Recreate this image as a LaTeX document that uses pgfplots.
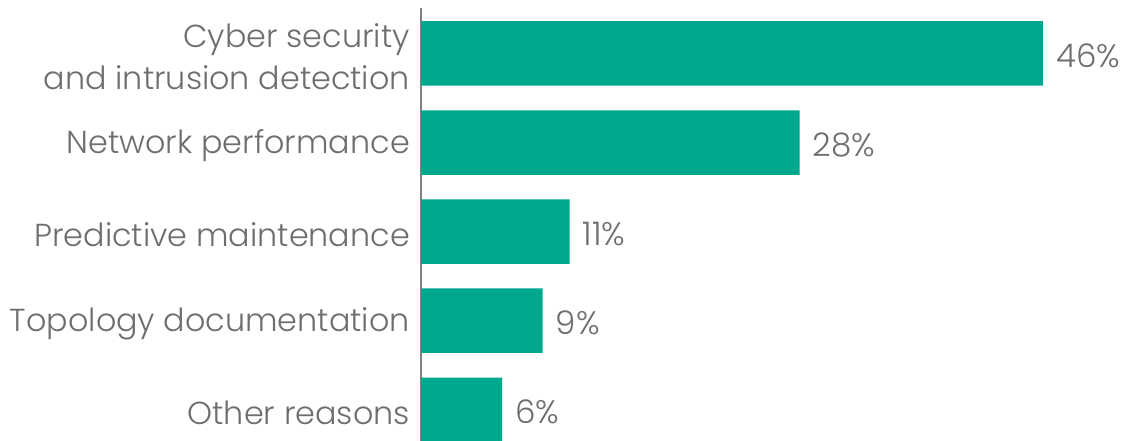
\documentclass[border=0pt]{standalone}
\usepackage{fontspec}
\setmainfont{Poppins}[UprightFont=* Light]
\usepackage{pgfplots}
\pgfplotsset{compat=1.18}
\definecolor{barcol}{HTML}{00A88E}
\definecolor{txtcol}{HTML}{6E6E6E}
\definecolor{linecol}{HTML}{808080}
\begin{document}
\begin{tikzpicture}
 \begin{axis}[
   at={(421pt,0pt)}, anchor=south west,
   scale only axis, width=676pt, height=433pt,
   xbar, bar width=64.5pt,
   xmin=0, xmax=50, ymin=-0.35, ymax=4.51,
   axis x line=none, axis y line*=left,
   y axis line style={linecol, line width=1.2pt},
   ytick={0,...,4}, major tick length=0pt,
   yticklabels={Other reasons,Topology documentation,Predictive maintenance,Network performance,{Cyber security\\and intrusion detection}},
   yticklabel style={align=right, inner sep=0pt, xshift=-11pt, yshift=-3pt, text=txtcol, font=\fontsize{31.8}{42}\selectfont},
   nodes near coords={\pgfmathprintnumber{\pgfplotspointmeta}\%},
   nodes near coords style={anchor=west, inner sep=0pt, xshift=13pt, yshift=-2pt, text=txtcol, font=\fontsize{32.5}{42}\selectfont, /pgf/number format/assume math mode=true},
   clip=false,
 ]
  \addplot[fill=barcol, draw=none] coordinates {(46,4) (28,3) (11,2) (9,1) (6,0)};
 \end{axis}
 \pgfresetboundingbox
 \useasboundingbox (0,0) rectangle (1129pt,441pt);
\end{tikzpicture}
\end{document}
